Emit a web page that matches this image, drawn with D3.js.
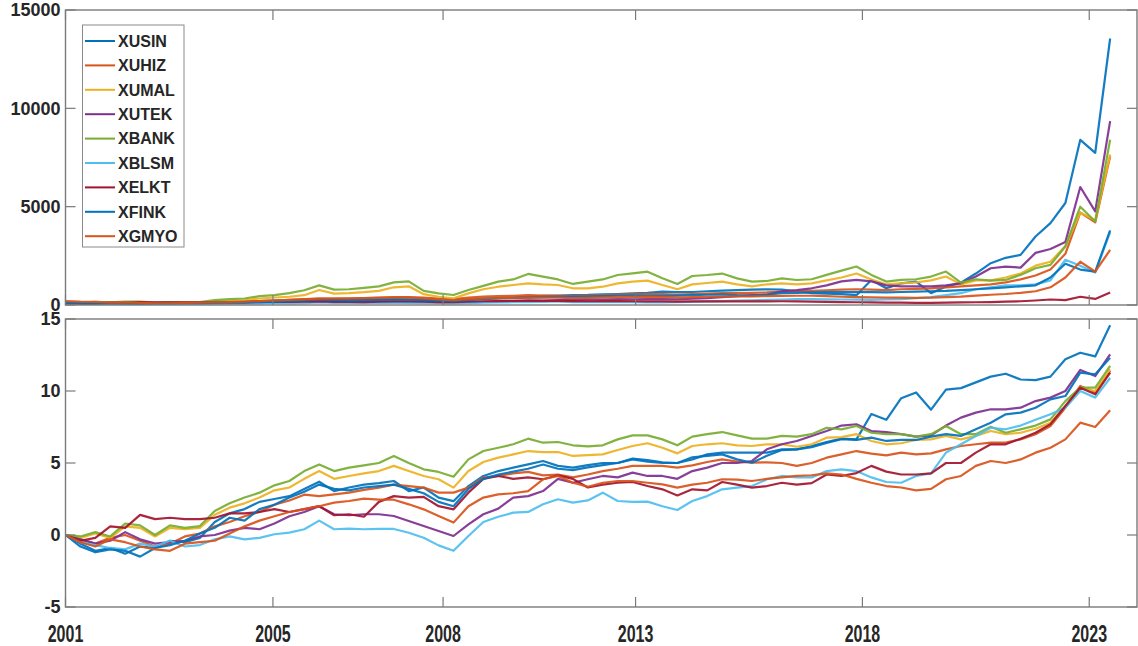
<!DOCTYPE html>
<html>
<head>
<meta charset="utf-8">
<script src="https://cdn.jsdelivr.net/npm/d3@7"></script>
<style>
  html, body { margin: 0; padding: 0; background: #fff; }
  svg { display: block; }
  text { font-family: "Liberation Sans", Arial, sans-serif; font-weight: bold; fill: #262626; }
</style>
</head>
<body>
<svg id="chart" width="1138" height="646"></svg>
<script>
// ---------- DATA ----------
const seriesNames = ["XUSIN","XUHIZ","XUMAL","XUTEK","XBANK","XBLSM","XELKT","XFINK","XGMYO"];
const seriesColors = ["#0072BD","#D95319","#EDB120","#7E2F8E","#77AC30","#4DBEEE","#A2142F","#0072BD","#D95319"];

const xTickPos = [0, 13.9, 25.3, 38.2, 53.4, 68.6];
const xTickLabels = ["2001","2005","2008","2013","2018","2023"];
const topTicks = [0, 5000, 10000, 15000];
const bottomTicks = [-5, 0, 5, 10, 15];

// ---- top panel (levels) ----
const topXUSIN = [100,80,60,70,55,70,65,90,85,100,140,170,180,200,220,230,260,300,260,270,280,290,300,280,
  260,230,210,270,320,350,390,420,460,480,500,510,540,560,590,620,680,650,660,700,730,760,780,800,780,700,
  600,580,550,500,1275,850,1100,1190,600,935,1140,1600,2125,2400,2550,3485,4165,5185,8400,7735,13550];
const topXUHIZ = [100,90,100,95,100,95,85,90,100,110,140,160,180,200,230,260,300,330,320,330,350,380,400,400,
  380,320,300,380,430,450,470,500,480,470,450,480,500,530,550,560,550,530,560,580,600,600,620,640,680,700,
  720,750,780,800,780,760,800,820,850,900,950,1000,1050,1150,1300,1500,1800,2600,4700,4200,7565];
const topXUMAL = [130,110,140,120,140,140,110,130,120,130,180,210,240,330,380,420,500,760,580,600,650,720,900,950,
  550,420,340,590,800,930,1017,1100,1050,1017,850,850,930,1100,1190,1237,1017,800,1050,1120,1190,1050,950,1050,1100,1050,
  1100,1250,1400,1600,1300,1050,1100,1150,1250,1450,1050,1250,1250,1400,1600,2000,2200,3000,4700,4300,7650];
const topXUTEK = [100,90,80,90,100,90,80,80,85,90,95,100,110,105,120,140,160,180,170,165,170,170,165,150,
  140,130,120,140,160,180,200,220,230,250,260,270,280,300,290,300,300,290,320,350,400,450,500,520,700,760,
  850,1000,1200,1280,1200,1000,950,950,950,1000,1100,1450,1870,1950,1900,2650,2850,3200,6000,4760,9350];
const topXBANK = [150,120,160,130,170,170,120,150,140,150,250,300,330,450,500,600,750,1000,780,800,870,950,1150,1200,
  720,590,510,760,970,1190,1300,1580,1440,1300,1070,1190,1300,1525,1610,1695,1356,1070,1475,1525,1600,1356,1190,1220,1356,1270,
  1310,1530,1750,1955,1530,1190,1275,1310,1445,1700,1140,1310,1240,1275,1530,1870,2040,2975,5000,4250,8400];
const topXBLSM = [100,80,70,60,60,70,60,70,60,60,70,80,75,80,90,85,100,130,110,110,110,110,110,105,
  100,90,80,100,120,130,140,150,160,180,150,150,150,150,140,130,135,150,160,180,200,220,240,260,280,300,
  300,290,280,270,260,280,300,350,400,500,600,800,900,1000,1000,1050,1250,2300,2000,1650,3700];
const topXELKT = [100,80,90,120,110,150,130,140,130,130,140,150,150,160,170,160,170,180,160,160,150,170,180,180,
  170,150,140,170,190,200,210,220,210,210,200,190,200,200,190,180,180,170,180,190,180,180,180,185,190,180,
  170,160,150,140,130,120,120,110,110,120,130,140,150,170,190,230,280,250,420,310,630];
const topXFINK = [100,80,70,75,70,60,75,80,90,100,110,130,125,150,170,200,230,280,250,240,250,260,280,270,
  250,220,200,260,300,330,350,380,400,420,410,430,450,470,480,470,460,480,500,520,540,500,480,530,600,620,
  640,650,650,660,650,640,660,680,700,720,760,800,850,900,950,1000,1400,2100,1800,1700,3800];
const topXGMYO = [200,170,160,120,130,110,90,90,110,120,130,150,170,200,230,260,290,320,330,340,350,360,380,370,
  340,290,250,300,330,350,360,380,380,380,350,360,380,390,400,410,400,380,400,420,430,440,440,450,460,470,
  470,450,420,400,390,380,370,360,370,400,430,480,520,560,620,700,900,1400,2200,1700,2800];

// ---- bottom panel (cumulative) ----
const botXUSIN = [0,-0.6,-1.1,-0.9,-1.3,-0.8,-0.9,-0.4,-0.5,-0.2,0.9,1.5,1.8,2.3,2.5,2.7,3.2,3.7,
  3.05,3.3,3.5,3.6,3.75,3.05,3.3,2.6,2.35,3.4,4.1,4.44,4.68,4.9,5.14,4.8,4.68,4.85,
  5.0,5.0,5.25,5.1,5.0,5.0,5.25,5.6,5.72,5.72,5.72,5.72,5.95,5.95,6.18,6.46,6.69,
  6.64,8.4,8.0,9.5,9.9,8.7,10.1,10.2,10.6,11.0,11.2,10.8,10.76,11.0,12.2,12.66,12.4,14.56];
const botXUHIZ = [0,-0.3,-0.6,-0.2,0.0,-0.4,-0.8,-0.6,-0.1,0.1,0.6,0.9,1.3,1.6,2.1,2.4,2.8,2.7,
  2.82,2.94,3.13,3.29,3.5,3.4,3.29,2.94,2.94,3.29,3.98,4.1,4.28,4.38,4.14,4.2,4.0,4.2,
  4.44,4.6,4.8,4.8,4.8,4.68,4.84,5.07,5.25,5.1,5.02,5.05,5.0,4.8,5.0,5.37,5.6,
  5.83,5.65,5.53,5.72,5.6,5.67,5.95,6.18,6.3,6.41,6.41,6.64,7.0,7.57,8.84,10.35,9.9,11.4];
const botXUMAL = [0,-0.2,0.1,-0.2,0.6,0.5,-0.1,0.5,0.4,0.5,1.4,1.9,2.2,2.6,3.1,3.3,3.9,4.44,
  3.9,4.1,4.28,4.44,4.8,4.44,4.1,3.87,3.29,4.44,5.07,5.37,5.6,5.83,5.76,5.76,5.49,5.55,
  5.6,5.9,6.18,6.37,6.06,5.67,6.18,6.3,6.37,6.23,6.18,6.3,6.3,6.13,6.3,6.76,6.8,
  7.0,6.53,6.3,6.37,6.6,6.64,6.88,6.64,6.88,7.22,7.0,7.1,7.38,7.8,8.96,10.23,10.0,11.5];
const botXUTEK = [0,-0.3,-0.6,-0.4,0.2,-0.3,-0.6,-0.5,-0.4,-0.1,0.0,0.3,0.5,0.4,0.8,1.3,1.6,2.0,
  1.44,1.37,1.44,1.44,1.32,0.97,0.62,0.28,-0.07,0.74,1.44,1.83,2.6,2.7,3.05,3.9,3.63,3.87,
  4.1,4.0,4.33,4.1,4.1,3.9,4.44,4.68,5.0,5.0,5.14,5.95,6.3,6.53,6.88,7.22,7.6,
  7.69,7.22,7.15,7.0,6.83,6.92,7.6,8.15,8.5,8.73,8.73,8.84,9.3,9.54,10.0,11.46,11.04,12.55];
const botXBANK = [0,-0.1,0.2,-0.1,0.8,0.67,0.0,0.67,0.5,0.62,1.67,2.2,2.6,2.94,3.45,3.75,4.44,4.9,
  4.44,4.68,4.84,5.0,5.49,5.0,4.56,4.38,4.05,5.25,5.83,6.06,6.3,6.69,6.41,6.46,6.23,6.15,
  6.23,6.64,6.92,6.92,6.64,6.23,6.83,7.0,7.15,6.92,6.69,6.69,6.88,6.83,7.0,7.45,7.34,
  7.57,7.1,7.0,7.0,6.83,7.0,7.57,7.0,7.0,7.52,7.1,7.34,7.6,8.03,9.3,10.23,10.23,11.74];
const botXBLSM = [0,-0.5,-0.7,-0.9,-1.0,-0.6,-0.8,-0.4,-0.8,-0.7,-0.3,-0.1,-0.3,-0.2,0.05,0.16,0.4,1.0,
  0.4,0.44,0.4,0.42,0.42,0.16,-0.19,-0.72,-1.1,-0.07,0.9,1.27,1.55,1.6,2.13,2.48,2.25,2.4,
  2.94,2.36,2.3,2.32,2.0,1.74,2.36,2.7,3.17,3.29,3.4,3.87,4.1,4.0,4.0,4.44,4.56,
  4.44,4.0,3.68,3.63,4.1,4.28,5.72,6.3,6.88,7.45,7.34,7.6,8.0,8.38,8.84,10.0,9.54,10.9];
const botXELKT = [0,-0.4,-0.2,0.6,0.5,1.4,1.1,1.2,1.1,1.1,1.2,1.5,1.5,1.6,1.8,1.6,1.8,2.0,
  1.37,1.44,1.27,2.3,2.7,2.6,2.65,2.0,1.78,2.94,3.9,4.1,3.9,4.0,3.87,4.14,3.9,3.3,
  3.5,3.63,3.68,3.4,3.17,2.75,3.17,3.1,3.68,3.5,3.29,3.4,3.63,3.5,3.6,4.2,4.1,
  4.3,4.8,4.4,4.2,4.2,4.28,5.0,5.0,5.72,6.3,6.3,6.69,7.1,7.7,8.96,10.23,9.77,11.27];
const botXFINK = [0,-0.8,-1.2,-1.0,-1.1,-1.5,-0.9,-0.7,-0.4,0.1,0.5,1.2,1.0,1.8,2.1,2.6,3.0,3.5,
  3.2,3.1,3.3,3.4,3.5,3.2,2.9,2.3,2.0,3.2,3.9,4.2,4.4,4.6,4.9,4.6,4.5,4.7,
  4.85,5.0,5.3,5.2,5.05,5.0,5.4,5.5,5.6,5.25,5.02,5.5,5.9,5.95,6.1,6.4,6.65,
  6.6,6.76,6.53,6.6,6.6,6.83,7.0,6.88,7.34,7.8,8.38,8.5,8.84,9.42,9.65,11.27,11.16,12.3];
const botXGMYO = [0,-0.5,-0.8,-0.3,-0.5,-0.8,-1.0,-1.1,-0.6,-0.5,-0.4,0.1,0.6,1.0,1.3,1.6,1.8,2.0,
  2.25,2.36,2.52,2.45,2.45,2.13,1.78,1.32,0.86,2.0,2.6,2.82,2.9,3.05,3.87,4.1,3.63,3.35,
  3.63,3.75,3.75,3.63,3.52,3.29,3.5,3.63,3.87,3.85,3.75,3.9,4.0,4.1,4.15,4.28,4.2,
  3.9,3.63,3.4,3.3,3.1,3.2,3.87,4.1,4.8,5.14,5.0,5.25,5.72,6.06,6.64,7.8,7.5,8.67];

const topData = [topXUSIN, topXUHIZ, topXUMAL, topXUTEK, topXBANK, topXBLSM, topXELKT, topXFINK, topXGMYO];
const botData = [botXUSIN, botXUHIZ, botXUMAL, botXUTEK, botXBANK, botXBLSM, botXELKT, botXFINK, botXGMYO];

// ---------- LAYOUT ----------
const svg = d3.select("#chart");
const L = 65.5, R = 1137;
const x = d3.scaleLinear().domain([0, 71.8]).range([L, R]);
const yTop = d3.scaleLinear().domain([0, 15000]).range([305, 10]);
const yBot = d3.scaleLinear().domain([-5, 15]).range([607, 319]);

const frameColor = "#7a7a7a";
const tickLen = 10;

function drawPanel(y, data, yTicks, showXLabels) {
  const g = svg.append("g");
  const [y0, y1] = y.range(); // bottom, top
  const line = d3.line().x((d, i) => x(i)).y(d => y(d));
  data.forEach((s, i) => {
    g.append("path").datum(s)
      .attr("d", line)
      .attr("fill", "none")
      .attr("stroke", seriesColors[i])
      .attr("stroke-width", 2.2)
      .attr("stroke-linejoin", "round")
      .attr("opacity", 0.92);
  });
  g.append("rect").attr("x", L).attr("y", y1).attr("width", R - L).attr("height", y0 - y1)
    .attr("fill", "none").attr("stroke", frameColor).attr("stroke-width", 1.4);
  xTickPos.forEach(t => {
    g.append("line").attr("x1", x(t)).attr("x2", x(t)).attr("y1", y0).attr("y2", y0 - tickLen)
      .attr("stroke", frameColor).attr("stroke-width", 1.2);
    g.append("line").attr("x1", x(t)).attr("x2", x(t)).attr("y1", y1).attr("y2", y1 + tickLen)
      .attr("stroke", frameColor).attr("stroke-width", 1.2);
  });
  yTicks.forEach(t => {
    g.append("line").attr("x1", L).attr("x2", L + tickLen).attr("y1", y(t)).attr("y2", y(t))
      .attr("stroke", frameColor).attr("stroke-width", 1.2);
    g.append("line").attr("x1", R - tickLen).attr("x2", R).attr("y1", y(t)).attr("y2", y(t))
      .attr("stroke", frameColor).attr("stroke-width", 1.2);
    g.append("text").attr("x", L - 5).attr("y", y(t)).attr("dy", "0.36em")
      .attr("text-anchor", "end").style("font-size", "18px").text(t);
  });
  if (showXLabels) {
    xTickPos.forEach((t, i) => {
      g.append("text")
        .attr("transform", `translate(${x(t)},${y0 + 35}) scale(0.8,1.15)`)
        .attr("text-anchor", "middle").style("font-size", "20px").text(xTickLabels[i]);
    });
  }
}

drawPanel(yTop, topData, topTicks, false);
drawPanel(yBot, botData, bottomTicks, true);

// ---------- LEGEND ----------
const lg = svg.append("g");
lg.append("rect").attr("x", 82.5).attr("y", 25).attr("width", 101.5).attr("height", 222)
  .attr("fill", "#fff").attr("stroke", "#8a8a8a").attr("stroke-width", 1);
seriesNames.forEach((n, i) => {
  const cy = 41 + i * 24.4;
  lg.append("line").attr("x1", 85).attr("x2", 115).attr("y1", cy).attr("y2", cy)
    .attr("stroke", seriesColors[i]).attr("stroke-width", 2);
  lg.append("text").attr("x", 118).attr("y", cy).attr("dy", "0.36em")
    .style("font-size", "16px").text(n);
});
</script>
</body>
</html>
